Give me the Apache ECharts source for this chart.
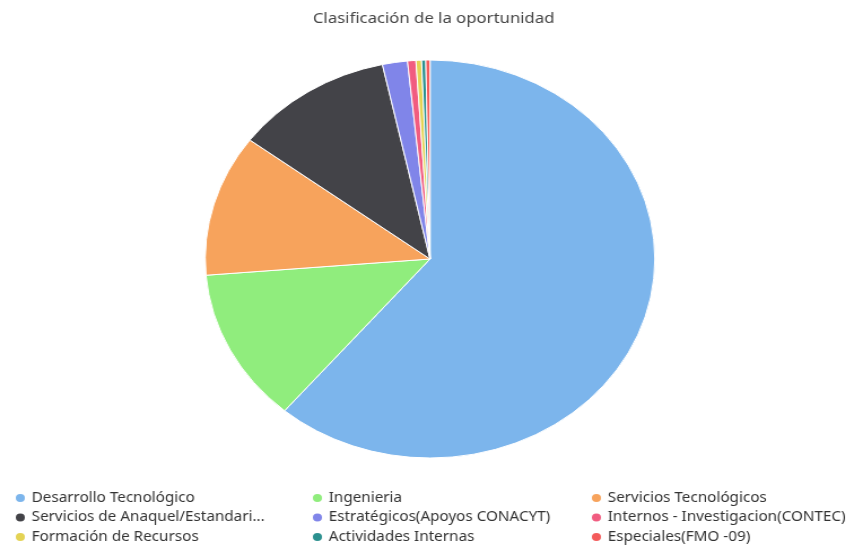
<!DOCTYPE html>
<html>
<head>
<meta charset="utf-8">
<script src="https://cdn.jsdelivr.net/npm/echarts@6/dist/echarts.min.js"></script>
<style>
  html, body { margin: 0; padding: 0; background: #ffffff; overflow: hidden; }
  #wrap { width: 854px; height: 548px; overflow: hidden; }
  /* the chart is laid out in a narrower frame and widened to the page width */
  #chart { width: 756px; height: 548px; transform: scaleX(1.1296); transform-origin: 0 0; }
</style>
</head>
<body>
<div id="wrap"><div id="chart"></div></div>
<script>
const titleText = 'Clasificación de la oportunidad';

const categories = [
  'Desarrollo Tecnológico',
  'Ingenieria',
  'Servicios Tecnológicos',
  'Servicios de Anaquel/Estandarizados',
  'Estratégicos(Apoyos CONACYT)',
  'Internos - Investigacion(CONTEC)',
  'Formación de Recursos',
  'Actividades Internas',
  'Especiales(FMO -09)'
];

// share of opportunities per classification (%)
const shares = [61.2, 12.5, 11.5, 11.4, 1.8, 0.6, 0.4, 0.3, 0.3];

const colors = ['#7cb5ec', '#90ed7d', '#f7a35c', '#434348', '#8085e9',
                '#f15c80', '#e4d354', '#2b908f', '#f45b5b'];

// legend columns (indices into categories)
const legendColumns = [[0, 3, 6], [1, 4, 7], [2, 5, 8]];
const legendLeft = [12, 275, 522];

const chart = echarts.init(document.getElementById('chart'));

// long names are cut short in the legend
const truncate = (s) => s.length > 32 ? s.slice(0, 30) + '...' : s;

const legends = legendColumns.map((col, i) => ({
  orient: 'vertical',
  left: legendLeft[i],
  top: 491,
  padding: 0,
  height: 60,
  data: col.map(k => categories[k]),
  icon: 'circle',
  itemWidth: 10,
  itemHeight: 10,
  itemGap: 5.5,
  selectedMode: false,
  formatter: truncate,
  textStyle: { fontFamily: 'Noto Sans', fontSize: 13.5, color: '#333333', lineHeight: 14 }
}));

chart.setOption({
  animation: false,
  color: colors,
  title: {
    text: titleText,
    left: 272,
    top: 6,
    textStyle: { fontFamily: 'Noto Sans', fontSize: 14.8, fontWeight: 'normal', color: '#444444' }
  },
  legend: legends,
  series: [{
    type: 'pie',
    center: [380.7, 259],
    radius: 199,
    startAngle: 90,
    clockwise: true,
    label: { show: false },
    labelLine: { show: false },
    itemStyle: { borderColor: '#ffffff', borderWidth: 1 },
    emphasis: { disabled: true },
    data: categories.map((name, i) => ({ name, value: shares[i] }))
  }]
});
</script>
</body>
</html>
